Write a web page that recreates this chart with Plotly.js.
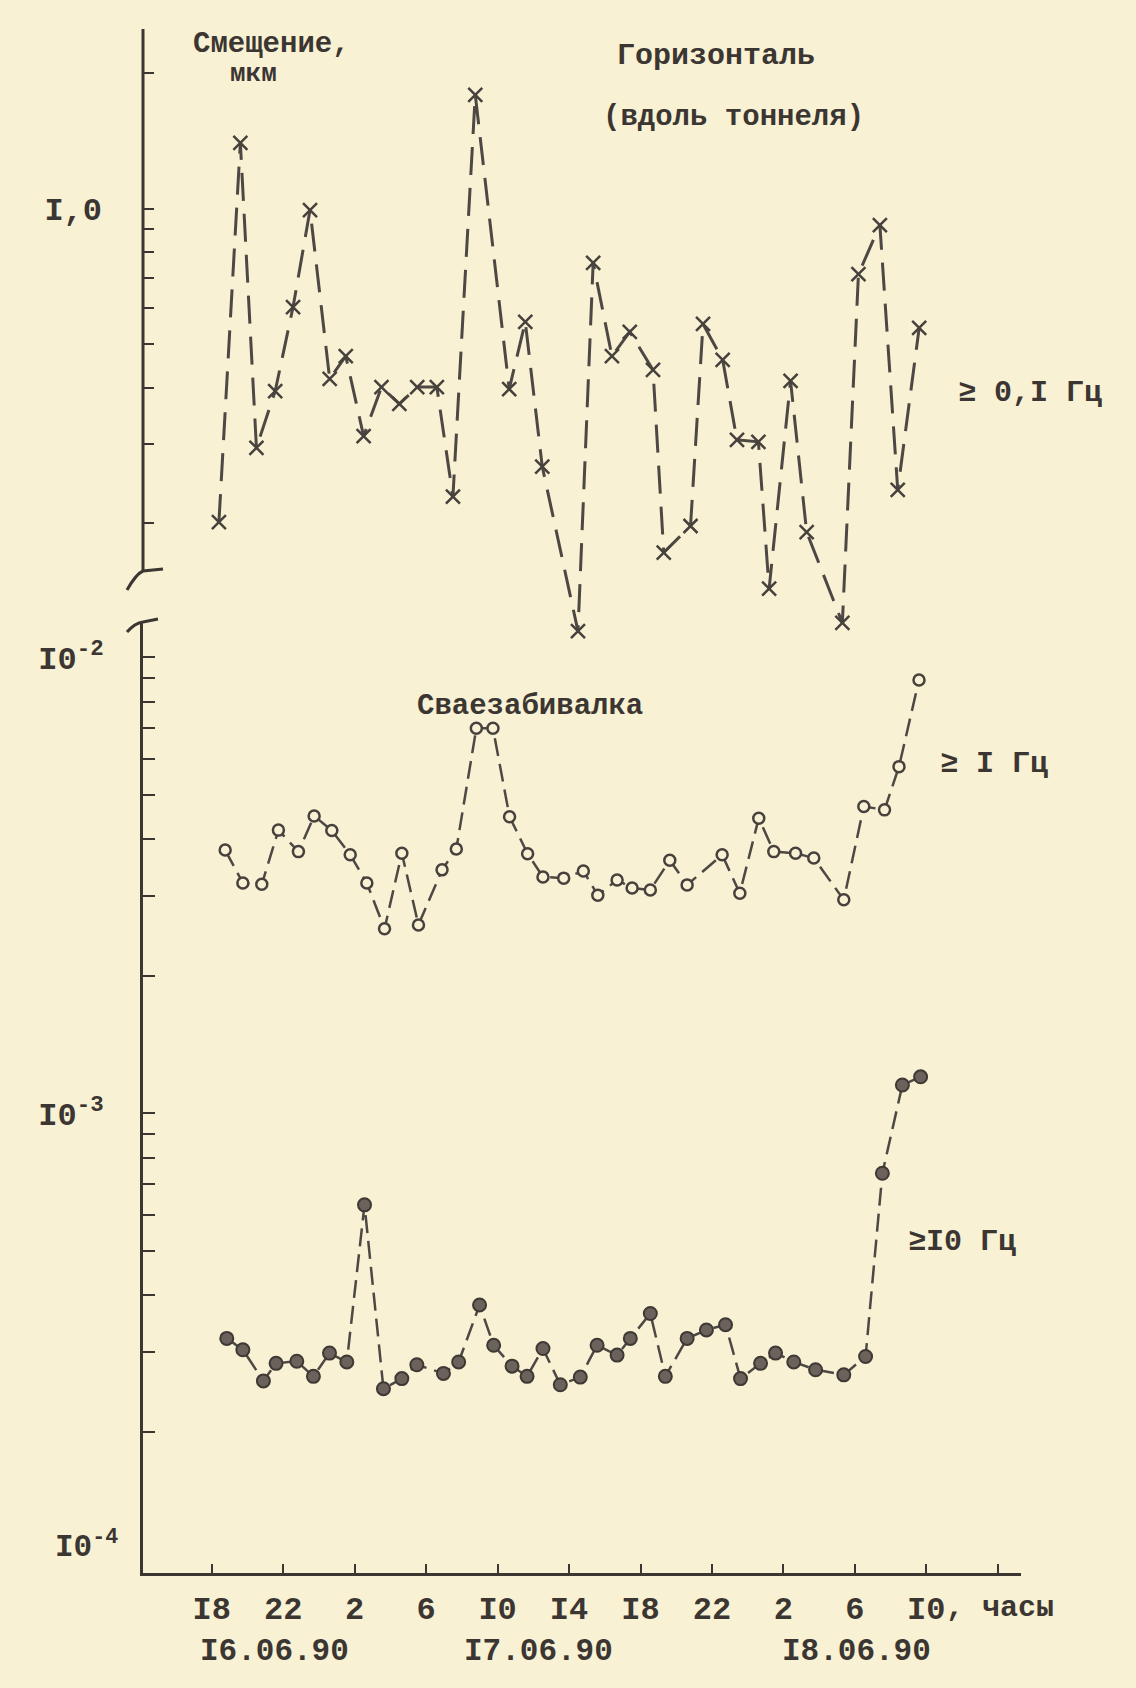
<!DOCTYPE html>
<html>
<head>
<meta charset="utf-8">
<script src="https://cdn.plot.ly/plotly-3.0.1.min.js"></script>
<style>
html,body{margin:0;padding:0;background:#f8f1d4;}
#chart{width:1136px;height:1688px;}
</style>
</head>
<body>
<div id="chart"></div>
<script>
// ---- Data (hours counted from 16.06.90 00:00) ----
// Horizontal displacement (along tunnel), >= 0.1 Hz, micrometres
const hoursTop = [18.4,19.6,20.5,21.55,22.55,23.5,24.6,25.5,26.5,27.5,28.5,29.5,30.6,31.5,32.75,34.65,35.55,36.5,38.5,39.35,40.4,41.4,42.7,43.3,44.8,45.5,46.6,47.4,48.6,49.2,50.4,51.3,53.3,54.2,55.4,56.4,57.6];
const dispTop  = [0.201,1.40,0.294,0.393,0.604,0.992,0.418,0.470,0.312,0.401,0.368,0.401,0.401,0.229,1.79,0.397,0.560,0.267,0.115,0.757,0.470,0.532,0.438,0.172,0.197,0.554,0.461,0.306,0.303,0.143,0.414,0.191,0.120,0.715,0.919,0.237,0.543];

// Pile driver, >= 1 Hz
const hoursMid = [18.75,19.74,20.8,21.73,22.85,23.73,24.72,25.75,26.68,27.67,28.64,29.57,30.89,31.69,32.81,33.74,34.67,35.68,36.54,37.7,38.8,39.61,40.69,41.53,42.55,43.64,44.61,46.57,47.56,48.62,49.46,50.68,51.7,53.38,54.5,55.66,56.47,57.59];
const dispMid  = [3.78e-3,3.20e-3,3.18e-3,4.18e-3,3.75e-3,4.49e-3,4.17e-3,3.69e-3,3.20e-3,2.54e-3,3.72e-3,2.59e-3,3.42e-3,3.80e-3,6.99e-3,6.99e-3,4.47e-3,3.71e-3,3.30e-3,3.28e-3,3.40e-3,3.01e-3,3.25e-3,3.12e-3,3.09e-3,3.59e-3,3.17e-3,3.69e-3,3.04e-3,4.44e-3,3.75e-3,3.72e-3,3.63e-3,2.94e-3,4.71e-3,4.63e-3,5.76e-3,8.92e-3];

// Pile driver, >= 10 Hz
const hoursBot = [18.84,19.74,20.89,21.6,22.76,23.69,24.59,25.56,26.55,27.61,28.64,29.48,30.97,31.82,32.99,33.78,34.81,35.65,36.54,37.51,38.63,39.57,40.69,41.43,42.55,43.39,44.61,45.69,46.76,47.6,48.72,49.56,50.58,51.8,53.38,54.6,55.54,56.66,57.68];
const dispBot  = [3.21e-4,3.03e-4,2.59e-4,2.83e-4,2.86e-4,2.65e-4,2.98e-4,2.85e-4,6.30e-4,2.49e-4,2.62e-4,2.81e-4,2.69e-4,2.85e-4,3.80e-4,3.10e-4,2.79e-4,2.65e-4,3.05e-4,2.54e-4,2.64e-4,3.10e-4,2.95e-4,3.21e-4,3.64e-4,2.65e-4,3.21e-4,3.35e-4,3.44e-4,2.62e-4,2.83e-4,2.98e-4,2.85e-4,2.74e-4,2.67e-4,2.93e-4,7.39e-4,1.154e-3,1.203e-3];

// Axis ticks and labels
const xTickHours  = [18,22,26,30,34,38,42,46,50,54,58,62];
const xTickLabels = ["I8","22","2","6","I0","I4","I8","22","2","6","I0",""];
const dateLabels  = ["I6.06.90","I7.06.90","I8.06.90"];
const dateHours   = [21.5,36.3,54.1];
const topTickVals = [0.2,0.3,0.4,0.5,0.6,0.7,0.8,0.9,1,2];
const topTickText = ["","","","","","","","","I,0",""];
const lowTickVals = [2e-4,3e-4,4e-4,5e-4,6e-4,7e-4,8e-4,9e-4,1e-3,2e-3,3e-3,4e-3,5e-3,6e-3,7e-3,8e-3,9e-3,1e-2];
const lowTickText = ["","","","","","","","","I0<sup>-3</sup>","","","","","","","","","I0<sup>-2</sup>"];

// ---- Styling / layout helpers (page pixels -> paper fractions) ----
const BG = '#f8f1d4', INK = '#3b3632', INK2 = '#46413c';
const FONT = 'Liberation Mono, DejaVu Sans Mono, monospace';
const L = 143, R = 1021, T = 29, B = 1573;
const px = x => (x - L) / (R - L);
const py = y => (B - y) / (B - T);

const traces = [
  {x: hoursTop, y: dispTop, xaxis: 'x', yaxis: 'y', mode: 'lines+markers', cliponaxis: false,
   line: {color: '#4d4843', width: 3, dash: '28px,13px'},
   marker: {symbol: 'x-thin-open', size: 14, color: INK2, line: {width: 2.5, color: INK2}}},
  {x: hoursMid, y: dispMid, xaxis: 'x', yaxis: 'y2', mode: 'lines+markers', cliponaxis: false,
   line: {color: '#4d4843', width: 2.5, dash: '18px,8px'},
   marker: {symbol: 'circle', size: 11, color: BG, line: {width: 2.5, color: INK2}}},
  {x: hoursBot, y: dispBot, xaxis: 'x', yaxis: 'y2', mode: 'lines+markers', cliponaxis: false,
   line: {color: '#4d4843', width: 2.5, dash: '18px,8px'},
   marker: {symbol: 'circle', size: 13, color: '#6a625b', line: {width: 2, color: '#3e3934'}}}
];

const ann = (text, x, y, xanchor, size, extra) => Object.assign({
  text: text, xref: 'paper', yref: 'paper', x: px(x), y: py(y), xanchor: xanchor || 'center',
  yanchor: 'middle', showarrow: false, font: {family: FONT, size: size || 30, color: INK, weight: 'bold'}
}, extra || {});

const annotations = [
  ann('Смещение,', 271, 44, 'center', 29),
  ann('мкм', 253, 74, 'center', 26),
  ann('Горизонталь', 716, 56, 'center', 30),
  ann('(вдоль тоннеля)', 733, 118, 'center', 29),
  ann('≥ 0,I Гц', 956, 393, 'left', 30),
  ann('Сваезабивалка', 530, 706, 'center', 29),
  ann('≥ I Гц', 938, 764, 'left', 30),
  ann('≥I0 Гц', 906, 1242, 'left', 30),
  ann(', часы', 944, 1608, 'left', 30),
  ann('I0<sup>-4</sup>', 120, 1545, 'right', 31)
];
dateLabels.forEach((t, i) => annotations.push({
  text: t, xref: 'x', yref: 'paper', x: dateHours[i], y: py(1651), xanchor: 'center', yanchor: 'middle',
  showarrow: false, font: {family: FONT, size: 31, color: INK, weight: 'bold'}
}));

const shapes = [
  // upper (broken) vertical axis
  {type: 'line', xref: 'paper', yref: 'paper', x0: 0, x1: 0, y0: py(571), y1: 1, line: {color: INK, width: 3}},
  // break marks
  {type: 'path', xref: 'paper', yref: 'paper',
   path: `M ${px(163)},${py(569)} L ${px(143)},${py(571)} Q ${px(136)},${py(574)} ${px(127)},${py(590)}`,
   line: {color: INK, width: 3}},
  {type: 'path', xref: 'paper', yref: 'paper',
   path: `M ${px(158)},${py(619)} L ${px(143)},${py(622)} Q ${px(135)},${py(623)} ${px(127)},${py(632)}`,
   line: {color: INK, width: 3}},
  // reference levels 1.0, 10^-2, 10^-3
  {type: 'line', xref: 'paper', yref: 'y', x0: 0, x1: px(997), y0: 0, y1: 0, line: {color: '#4a3f38', width: 2.2}},
  {type: 'line', xref: 'paper', yref: 'y2', x0: 0, x1: px(997), y0: -2, y1: -2, line: {color: '#4a3f38', width: 2.2}},
  {type: 'line', xref: 'paper', yref: 'y2', x0: 0, x1: px(997), y0: -3, y1: -3, line: {color: '#4a3f38', width: 2.2}}
];

const tickFont = {family: FONT, size: 32, color: INK, weight: 'bold'};

const layout = {
  width: 1136, height: 1688,
  margin: {l: L, r: 1136 - R, t: T, b: 1688 - B, pad: 0},
  paper_bgcolor: BG, plot_bgcolor: 'rgba(0,0,0,0)',
  showlegend: false,
  font: {family: FONT, size: 30, color: INK},
  xaxis: {
    range: [14.15, 63.3], anchor: 'y2', showline: true, linewidth: 3, linecolor: INK,
    ticks: 'inside', ticklen: 9, tickwidth: 2, tickcolor: INK,
    tickmode: 'array', tickvals: xTickHours, ticktext: xTickLabels,
    showgrid: false, zeroline: false, tickfont: tickFont, ticklabelstandoff: 5
  },
  yaxis: {
    type: 'log', domain: [py(645), 1], range: [-0.970, 0.399], anchor: 'x',
    showline: false, ticks: 'inside', ticklen: 11, tickwidth: 2, tickcolor: INK,
    tickmode: 'array', tickvals: topTickVals, ticktext: topTickText,
    showgrid: false, zeroline: false, tickfont: tickFont, ticklabelstandoff: 40
  },
  yaxis2: {
    type: 'log', domain: [0, py(622)], range: [-4.008, -1.9224], anchor: 'x',
    showline: true, linewidth: 3, linecolor: INK,
    ticks: 'inside', ticklen: 12, tickwidth: 2, tickcolor: INK,
    tickmode: 'array', tickvals: lowTickVals, ticktext: lowTickText,
    showgrid: false, zeroline: false, tickfont: tickFont, ticklabelstandoff: 30
  },
  shapes: shapes,
  annotations: annotations
};

Plotly.newPlot('chart', traces, layout, {staticPlot: true, displayModeBar: false});
</script>
</body>
</html>
